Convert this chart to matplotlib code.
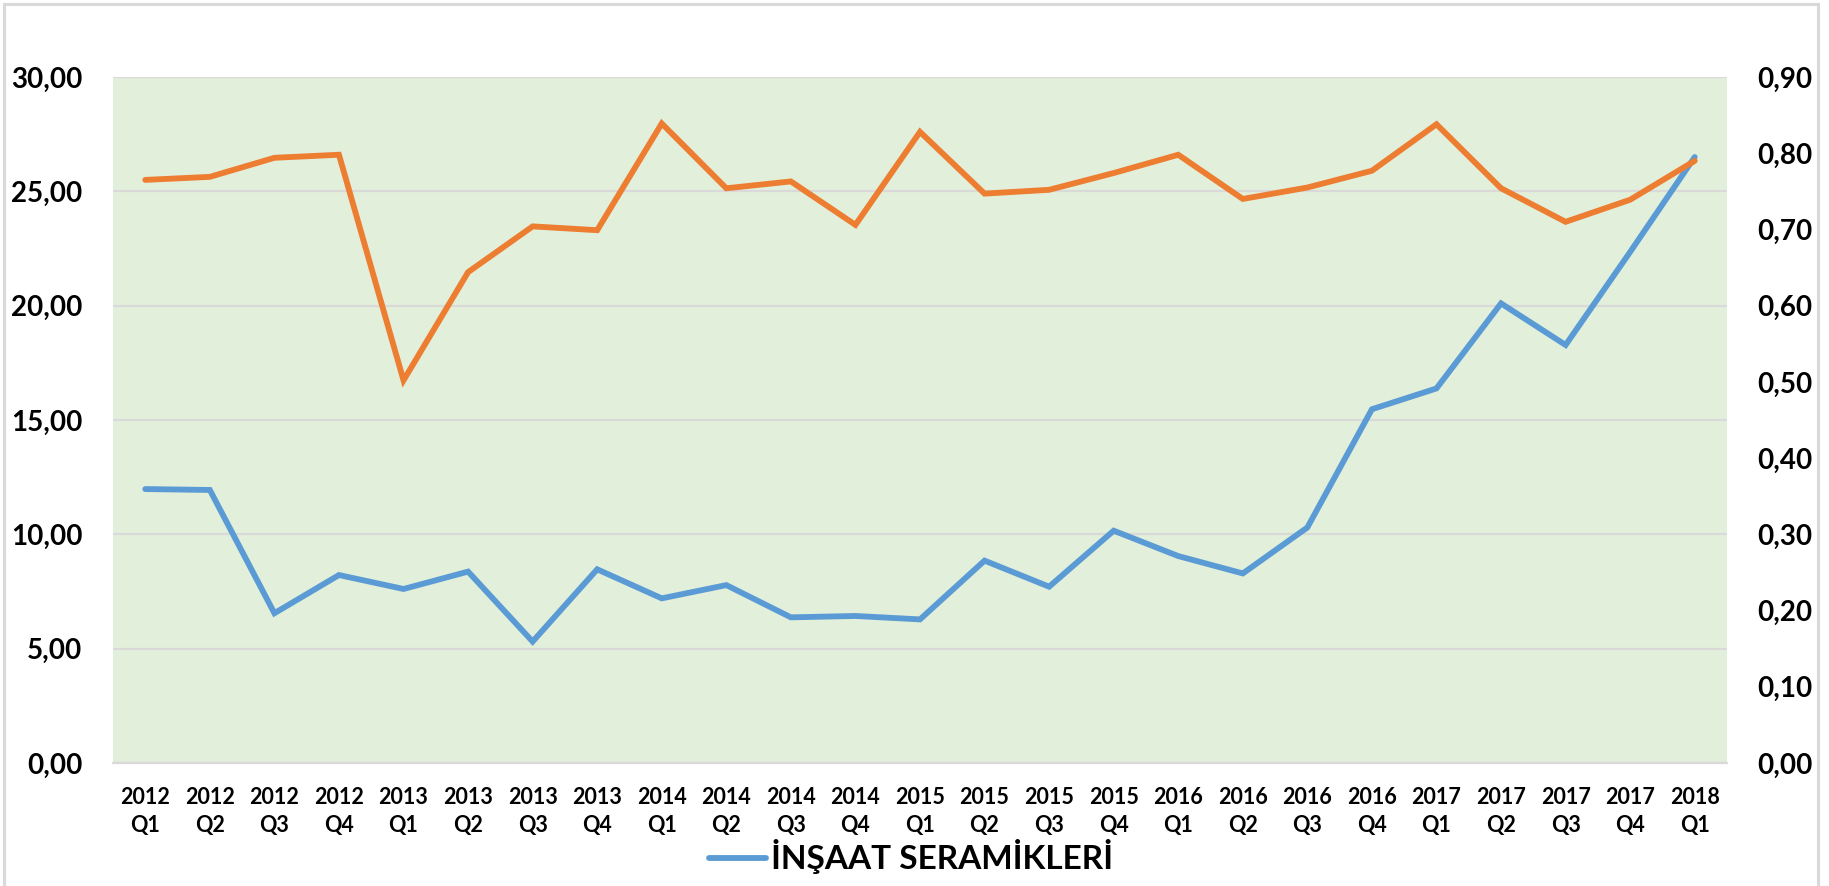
import matplotlib
matplotlib.use("Agg")
import matplotlib.pyplot as plt
from matplotlib.patches import Rectangle
from matplotlib.ticker import FixedLocator, FuncFormatter

categories = ["2012\nQ1", "2012\nQ2", "2012\nQ3", "2012\nQ4",
              "2013\nQ1", "2013\nQ2", "2013\nQ3", "2013\nQ4",
              "2014\nQ1", "2014\nQ2", "2014\nQ3", "2014\nQ4",
              "2015\nQ1", "2015\nQ2", "2015\nQ3", "2015\nQ4",
              "2016\nQ1", "2016\nQ2", "2016\nQ3", "2016\nQ4",
              "2017\nQ1", "2017\nQ2", "2017\nQ3", "2017\nQ4",
              "2018\nQ1"]

insaat_seramikleri = [11.98, 11.94, 6.55, 8.22, 7.61, 8.37, 5.31, 8.47, 7.20,
                      7.78, 6.37, 6.43, 6.28, 8.85, 7.71, 10.16, 9.05, 8.29,
                      10.30, 15.47, 16.38, 20.10, 18.28, 22.35, 26.50]

ikinci_seri = [0.765, 0.769, 0.794, 0.798, 0.502, 0.644, 0.704, 0.699, 0.839,
               0.754, 0.763, 0.706, 0.828, 0.747, 0.752, 0.774, 0.798, 0.740,
               0.755, 0.777, 0.838, 0.754, 0.710, 0.739, 0.790]

left_ticks = [0, 5, 10, 15, 20, 25, 30]
right_ticks = [0.0, 0.1, 0.2, 0.3, 0.4, 0.5, 0.6, 0.7, 0.8, 0.9]
legend_label = "İNŞAAT SERAMİKLERİ"

plt.rcParams['font.family'] = ['Lato', 'DejaVu Sans']

W, H = 1829, 886
fig = plt.figure(figsize=(W / 100, H / 100), dpi=100)
fig.patch.set_facecolor("white")

# outer chart frame
fig.patches.append(Rectangle((4 / W, -0.05), (1818 - 4) / W, 1 - 4 / H + 0.05,
                             transform=fig.transFigure, fill=False,
                             edgecolor="#D9D9D9", linewidth=2.2))

ax = fig.add_axes([113 / W, 1 - 763 / H, (1727 - 113) / W, (763 - 77) / H])
ax.set_facecolor("#E2EFDA")
x = list(range(len(categories)))

blue_line, = ax.plot(x, insaat_seramikleri, color="#5B9BD5", linewidth=4.2,
                     solid_joinstyle="miter", solid_capstyle="round", zorder=3,
                     label=legend_label)
ax.set_xlim(-0.5, len(categories) - 0.5)
ax.set_ylim(0, 30)
ax.yaxis.set_major_locator(FixedLocator(left_ticks))
ax.yaxis.set_major_formatter(FuncFormatter(lambda v, p: f"{v:.2f}".replace(".", ",")))
ax.grid(axis="y", color="#D9D9D9", linewidth=1.6)
ax.set_axisbelow(True)
ax.set_xticks(x)
ax.set_xticklabels(categories, fontsize=15.5, fontweight="bold", linespacing=1.45)
for s in ax.spines.values():
    s.set_visible(False)
ax.spines["bottom"].set_visible(True)
ax.spines["bottom"].set_color("#D9D9D9")
ax.spines["bottom"].set_linewidth(1.6)
ax.tick_params(axis="both", length=0)
ax.tick_params(axis="x", pad=17)
ax.tick_params(axis="y", pad=22, labelsize=20)
for lbl in ax.get_yticklabels():
    lbl.set_fontweight("bold")

ax2 = ax.twinx()
ax2.plot(x, ikinci_seri, color="#ED7D31", linewidth=4.2,
         solid_joinstyle="miter", solid_capstyle="round", zorder=3)
ax2.set_ylim(0, 0.9)
ax2.yaxis.set_major_locator(FixedLocator(right_ticks))
ax2.yaxis.set_major_formatter(FuncFormatter(lambda v, p: f"{v:.2f}".replace(".", ",")))
for s in ax2.spines.values():
    s.set_visible(False)
ax2.tick_params(axis="y", length=0, pad=22, labelsize=20)
for lbl in ax2.get_yticklabels():
    lbl.set_fontweight("bold")

fig.legend(handles=[blue_line], loc="center", bbox_to_anchor=(911 / W, 1 - 857 / H),
           frameon=False, prop={"size": 24, "weight": "bold"},
           handlelength=1.7, handletextpad=0.15)

fig.savefig("out.png", dpi=100)
